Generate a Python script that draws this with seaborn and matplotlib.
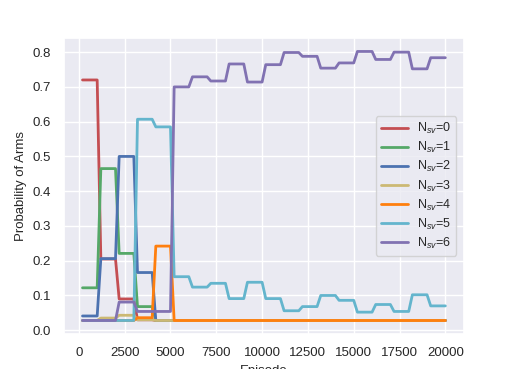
import numpy as np
import pandas as pd
import seaborn as sns
import matplotlib
matplotlib.use("Agg")
import matplotlib.pyplot as plt

# episodes logged every 200, arm probabilities hold steady over each 1000-episode block
episodes = list(range(200, 20001, 200))

# one value per 1000-episode block (20 blocks)
p0 = [0.72, 0.205, 0.09, 0.03, 0.028, 0.028, 0.028, 0.028, 0.028, 0.028,
      0.028, 0.028, 0.028, 0.028, 0.028, 0.028, 0.028, 0.028, 0.028, 0.028]
p1 = [0.122, 0.465, 0.221, 0.068, 0.028, 0.028, 0.028, 0.028, 0.028, 0.028,
      0.028, 0.028, 0.028, 0.028, 0.028, 0.028, 0.028, 0.028, 0.028, 0.028]
p2 = [0.041, 0.206, 0.50, 0.166, 0.028, 0.028, 0.028, 0.028, 0.028, 0.028,
      0.028, 0.028, 0.028, 0.028, 0.028, 0.028, 0.028, 0.028, 0.028, 0.028]
p3 = [0.028, 0.035, 0.043, 0.03, 0.028, 0.028, 0.028, 0.028, 0.028, 0.028,
      0.028, 0.028, 0.028, 0.028, 0.028, 0.028, 0.028, 0.028, 0.028, 0.028]
p4 = [0.028, 0.028, 0.028, 0.036, 0.242, 0.028, 0.028, 0.028, 0.028, 0.028,
      0.028, 0.028, 0.028, 0.028, 0.028, 0.028, 0.028, 0.028, 0.028, 0.028]
p5 = [0.028, 0.028, 0.028, 0.607, 0.585, 0.154, 0.124, 0.135, 0.091, 0.138,
      0.091, 0.056, 0.068, 0.10, 0.086, 0.052, 0.074, 0.054, 0.102, 0.07]
p6 = [0.028, 0.028, 0.081, 0.054, 0.054, 0.70, 0.729, 0.717, 0.766, 0.714,
      0.764, 0.799, 0.788, 0.754, 0.769, 0.802, 0.779, 0.80, 0.752, 0.784]

arms = [r"N$_{sv}$=%d" % i for i in range(7)]
colors = ["#C44E52", "#55A868", "#4C72B0", "#CCB974", "#FF7F0E", "#64B5CD", "#8172B2"]

frames = []
for name, vals in zip(arms, [p0, p1, p2, p3, p4, p5, p6]):
    frames.append(pd.DataFrame({"Episode": episodes,
                                "prob": np.repeat(vals, 5),
                                "arm": name}))
df = pd.concat(frames, ignore_index=True)

sns.set_theme(style="darkgrid")
plt.rcParams["font.family"] = ["Liberation Sans", "DejaVu Sans"]
plt.rcParams["mathtext.fontset"] = "custom"
plt.rcParams["mathtext.rm"] = "Liberation Sans"
plt.rcParams["mathtext.it"] = "Liberation Sans:italic"
plt.rcParams["xtick.labelsize"] = 9.5
plt.rcParams["ytick.labelsize"] = 9.5
plt.rcParams["axes.labelsize"] = 9.5
plt.rcParams["legend.fontsize"] = 9

fig = plt.figure(figsize=(5.15, 3.69), dpi=100)
ax = fig.add_axes([0.125, 0.095, 0.775, 0.802])
sns.lineplot(data=df, x="Episode", y="prob", hue="arm", palette=colors,
             linewidth=2, ax=ax)

ax.set_ylabel("Probability of Arms")
ax.set_xlabel("Episode")
handles, labels = ax.get_legend_handles_labels()
ax.legend(handles, labels, loc="center right", labelspacing=0.32,
          handlelength=2.2, handletextpad=0.7, borderaxespad=0.6)

fig.savefig("out.png", dpi=100)
